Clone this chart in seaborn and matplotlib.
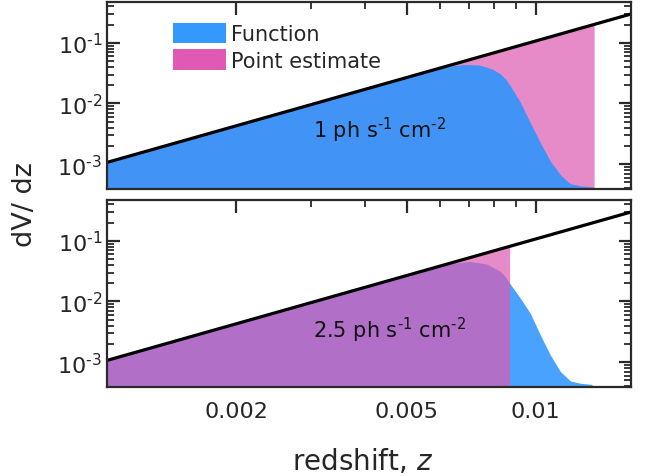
import numpy as np
import pandas as pd
import matplotlib
matplotlib.use("Agg")
import matplotlib.pyplot as plt
import matplotlib.ticker as mticker
from matplotlib.patches import Patch
import seaborn as sns

# ---- data ----
z_line = [0.001, 0.0167]
dvdz_line = [1.07e-3, 0.298]

z_func_1 = [0.001, 0.002, 0.003, 0.004, 0.005, 0.00538, 0.00589, 0.00644, 0.00674,
            0.00704, 0.00737, 0.00771, 0.00798, 0.00828, 0.0085, 0.00873, 0.00922,
            0.00972, 0.01026, 0.01083, 0.01143, 0.01174, 0.01206, 0.01273, 0.01368]
func_1 = [1.07e-3, 4.28e-3, 9.6e-3, 0.0171, 0.0266, 0.0306, 0.037, 0.042, 0.0436,
          0.0437, 0.0432, 0.0395, 0.036, 0.0306, 0.0256, 0.0196, 0.0104,
          0.00484, 0.00226, 0.00112, 6.7e-4, 5.6e-4, 4.77e-4, 4.4e-4, 4.2e-4]

z_func_2 = [0.001, 0.002, 0.003, 0.004, 0.005, 0.00538, 0.00589, 0.00644, 0.00704,
            0.00771, 0.00798, 0.00828, 0.0085, 0.0087, 0.00922, 0.00972, 0.01026,
            0.01083, 0.01143, 0.01206, 0.01273, 0.01355]
func_2 = [1.07e-3, 4.28e-3, 9.6e-3, 0.0171, 0.0266, 0.031, 0.037, 0.0424, 0.0457,
          0.0413, 0.036, 0.0313, 0.0258, 0.020, 0.0113, 0.0064, 0.00281,
          0.00131, 7.0e-4, 4.9e-4, 4.5e-4, 4.3e-4]

z_point_1 = [0.001, 0.0137]
point_1 = [1.07e-3, 0.197]
z_point_2 = [0.001, 0.0087]
point_2 = [1.07e-3, 0.079]

labels = [r"1 ph s$^{\text{-}1}$ cm$^{\text{-}2}$", r"2.5 ph s$^{\text{-}1}$ cm$^{\text{-}2}$"]
x_major = [0.002, 0.005, 0.01]
x_major_labels = ["0.002", "0.005", "0.01"]

# ---- style ----
sns.set_theme(style="ticks")
plt.rcParams["font.family"] = ["DejaVu Sans"]
plt.rcParams.update({
    "xtick.direction": "in", "ytick.direction": "in",
    "xtick.top": True, "ytick.right": True,
    "axes.edgecolor": "#2a2a2a", "axes.linewidth": 1.6,
    "xtick.color": "#2a2a2a", "ytick.color": "#2a2a2a",
    "xtick.labelcolor": "#262626", "ytick.labelcolor": "#262626",
})

fig = plt.figure(figsize=(6.48, 4.77), dpi=100)
L, R = 107 / 648, 631 / 648
ax1 = fig.add_axes([L, 1 - 190 / 477, R - L, 187 / 477])
ax2 = fig.add_axes([L, 1 - 388 / 477, R - L, 187 / 477])

YMIN, YMAX = 3.9e-4, 0.47
XMIN, XMAX = 0.001, 0.0167

blue_top = "#4194f6"
blue_bot = "#49a3fe"
pink = "#de5ab1"

# top panel: pink under, blue opaque over
ax1.fill_between(z_point_1, YMIN, point_1, color=pink, alpha=0.7, lw=0, zorder=1)
ax1.fill_between(z_func_1, YMIN, func_1, color=blue_top, lw=0, zorder=2)
# bottom panel: blue under, translucent pink over
ax2.fill_between(z_func_2, YMIN, func_2, color=blue_bot, lw=0, zorder=1)
ax2.fill_between(z_point_2, YMIN, point_2, color=pink, alpha=0.7, lw=0, zorder=2)


def ylab(v, pos):
    e = int(round(np.log10(v)))
    s = str(e).replace("-", r"\text{-}")
    return r"10$^{%s}$" % s


line_df = pd.DataFrame({"z": z_line, "dvdz": dvdz_line})
for ax in (ax1, ax2):
    sns.lineplot(data=line_df, x="z", y="dvdz", ax=ax, color="black", lw=2.3, zorder=3)
    ax.set_xscale("log")
    ax.set_yscale("log")
    ax.set_xlim(XMIN, XMAX)
    ax.set_ylim(YMIN, YMAX)
    ax.set_xlabel("")
    ax.set_ylabel("")
    ax.xaxis.set_major_locator(mticker.FixedLocator(x_major))
    ax.xaxis.set_minor_locator(mticker.FixedLocator(
        [0.003, 0.004, 0.006, 0.007, 0.008, 0.009]))
    ax.yaxis.set_major_locator(mticker.FixedLocator([1e-3, 1e-2, 1e-1]))
    ax.yaxis.set_major_formatter(mticker.FuncFormatter(ylab))
    ax.yaxis.set_minor_locator(mticker.LogLocator(base=10, subs=np.arange(2, 10), numticks=20))
    ax.yaxis.set_minor_formatter(mticker.NullFormatter())
    ax.xaxis.set_minor_formatter(mticker.NullFormatter())
    ax.tick_params(which="major", length=9, width=1.6, labelsize=16)
    ax.tick_params(which="minor", length=5, width=1.3)
    for s in ax.spines.values():
        s.set_zorder(5)

ax1.xaxis.set_major_formatter(mticker.NullFormatter())
ax2.xaxis.set_major_formatter(mticker.FixedFormatter(x_major_labels))
ax2.tick_params(axis="x", which="major", pad=10)

ax1.text(0.521, 0.321, labels[0], transform=ax1.transAxes, ha="center", va="center",
         fontsize=15, color="#111111", zorder=6)
ax2.text(0.540, 0.31, labels[1], transform=ax2.transAxes, ha="center", va="center",
         fontsize=15, color="#111111", zorder=6)

handles = [Patch(facecolor="#3399ff", edgecolor="none"),
           Patch(facecolor="#e05ab4", edgecolor="none")]
ax1.legend(handles, ["Function", "Point estimate"], loc="upper left",
           bbox_to_anchor=(0.126, 0.89), frameon=False, fontsize=15,
           handlelength=2.55, handleheight=1.15, labelspacing=0.25,
           handletextpad=0.25, borderpad=0, borderaxespad=0)

fig.text(25 / 648, 1 - 205 / 477, "dV/ dz", rotation=90, ha="center", va="center",
         fontsize=19.5, color="#262626")
fig.text(363 / 648, 1 - 462 / 477, "redshift, $z$", ha="center", va="center",
         fontsize=20, color="#262626")

fig.savefig("out.png", dpi=100)
